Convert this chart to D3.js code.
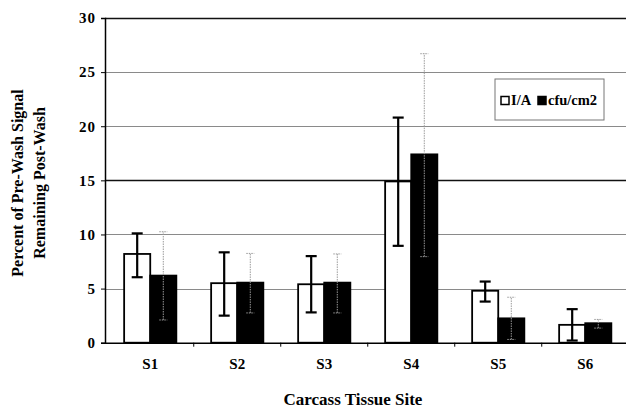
<!DOCTYPE html>
<html>
<head>
<meta charset="utf-8">
<script src="https://cdn.jsdelivr.net/npm/d3@7"></script>
<style>
  body { margin: 0; background: #fff; }
  text { font-family: "Liberation Serif", "Times New Roman", serif; font-weight: bold; }
</style>
</head>
<body>
<div id="chart"></div>
<script>
// data
const sites = ["S1", "S2", "S3", "S4", "S5", "S6"];
const series = ["I/A", "cfu/cm2"];
const iaValues = [8.2, 5.5, 5.4, 14.9, 4.8, 1.65];
const iaErrLow = [6.05, 2.5, 2.8, 8.95, 3.8, 0.2];
const iaErrHigh = [10.1, 8.35, 8.0, 20.8, 5.65, 3.1];
const cfuValues = [6.2, 5.55, 5.55, 17.4, 2.25, 1.8];
const cfuErrLow = [2.1, 2.75, 2.75, 7.95, 0.3, 1.35];
const cfuErrHigh = [10.25, 8.25, 8.2, 26.7, 4.2, 2.15];
const yTicks = [0, 5, 10, 15, 20, 25, 30];

const width = 626, height = 409;
const margin = { top: 18, right: 0, bottom: 66.3, left: 105 };

const svg = d3.select("#chart").append("svg")
  .attr("width", width)
  .attr("height", height);

const x = d3.scaleBand()
  .domain(sites)
  .range([margin.left, 627])
  .paddingInner(0.4)
  .paddingOuter(0.2)
  .align(0.55);

const xInner = d3.scaleBand()
  .domain(series)
  .range([0, x.bandwidth()]);

const y = d3.scaleLinear()
  .domain([0, 30])
  .range([height - margin.bottom, margin.top]);

// gridlines
svg.append("g")
  .selectAll("line")
  .data(yTicks.filter(d => d > 0))
  .join("line")
  .attr("x1", margin.left)
  .attr("x2", width)
  .attr("y1", d => Math.round(y(d)) + 0.5)
  .attr("y2", d => Math.round(y(d)) + 0.5)
  .attr("stroke", d => (d === 15 || d === 30) ? "#111" : "#8a8a8a")
  .attr("stroke-width", d => (d === 15 || d === 30) ? 1.3 : 1.2);

// build table
const rows = sites.map((s, i) => [
  { site: s, key: "I/A", v: iaValues[i], lo: iaErrLow[i], hi: iaErrHigh[i] },
  { site: s, key: "cfu/cm2", v: cfuValues[i], lo: cfuErrLow[i], hi: cfuErrHigh[i] }
]).flat();

// bars
svg.append("g")
  .selectAll("rect")
  .data(rows)
  .join("rect")
  .attr("x", d => x(d.site) + xInner(d.key))
  .attr("y", d => y(d.v))
  .attr("width", xInner.bandwidth())
  .attr("height", d => y(0) - y(d.v))
  .attr("fill", d => d.key === "I/A" ? "#fff" : "#000")
  .attr("stroke", "#000")
  .attr("stroke-width", 1.8);

// error bars
const err = svg.append("g")
  .selectAll("g")
  .data(rows)
  .join("g")
  .attr("stroke", d => d.key === "I/A" ? "#000" : "#999")
  .attr("stroke-width", d => d.key === "I/A" ? 2.2 : 1)
  .attr("stroke-dasharray", d => d.key === "I/A" ? null : "1.5,1");

err.append("line")
  .attr("x1", d => x(d.site) + xInner(d.key) + xInner.bandwidth() / 2)
  .attr("x2", d => x(d.site) + xInner(d.key) + xInner.bandwidth() / 2)
  .attr("y1", d => y(d.lo))
  .attr("y2", d => y(d.hi));

["lo", "hi"].forEach(k => {
  err.append("line")
    .attr("x1", d => x(d.site) + xInner(d.key) + xInner.bandwidth() / 2 - (d.key === "I/A" ? 5.5 : 4))
    .attr("x2", d => x(d.site) + xInner(d.key) + xInner.bandwidth() / 2 + (d.key === "I/A" ? 5.5 : 4))
    .attr("y1", d => y(d[k]))
    .attr("y2", d => y(d[k]));
});

// y axis
const yAxis = svg.append("g")
  .attr("transform", `translate(${margin.left},0)`)
  .call(d3.axisLeft(y).tickValues(yTicks).tickSize(4).tickPadding(5));
yAxis.select(".domain").attr("stroke", "#000").attr("stroke-width", 1.5);
yAxis.selectAll(".tick line").attr("stroke", "#000");
yAxis.selectAll(".tick text")
  .style("font-size", "15px")
  .style("letter-spacing", "1px")
  .attr("fill", "#000");

// x axis
const xAxis = svg.append("g")
  .attr("transform", `translate(0,${y(0)})`)
  .call(d3.axisBottom(x).tickSize(0).tickPadding(16));
xAxis.select(".domain").attr("stroke", "#000").attr("stroke-width", 1.5);
xAxis.selectAll(".tick text")
  .style("font-size", "15px")
  .attr("fill", "#000");

// tick marks between categories
svg.append("g")
  .selectAll("line")
  .data(sites.slice(1))
  .join("line")
  .attr("x1", d => x(d) - x.step() * x.paddingInner() / 2)
  .attr("x2", d => x(d) - x.step() * x.paddingInner() / 2)
  .attr("y1", y(0))
  .attr("y2", y(0) + 4)
  .attr("stroke", "#000");

// axis titles
svg.append("text")
  .attr("x", 353)
  .attr("y", 405)
  .attr("text-anchor", "middle")
  .style("font-size", "17px")
  .text("Carcass Tissue Site");

const yTitle = svg.append("text")
  .attr("transform", "translate(29,183) rotate(-90)")
  .attr("text-anchor", "middle")
  .style("font-size", "16px");
yTitle.append("tspan").attr("x", 0).attr("dy", "-0.35em").text("Percent of Pre-Wash Signal");
yTitle.append("tspan").attr("x", 0).attr("dy", "1.35em").text("Remaining Post-Wash");

// legend
const legend = svg.append("g").attr("transform", "translate(495,79)");
legend.append("rect")
  .attr("width", 109)
  .attr("height", 41)
  .attr("fill", "#fff")
  .attr("stroke", "#777")
  .attr("stroke-width", 1);
const legendItems = [
  { key: "I/A", x: 6, fill: "#fff" },
  { key: "cfu/cm2", x: 43, fill: "#000" }
];
legendItems.forEach(d => {
  legend.append("rect")
    .attr("x", d.x)
    .attr("y", 17.5)
    .attr("width", 8)
    .attr("height", 8)
    .attr("fill", d.fill)
    .attr("stroke", "#000")
    .attr("stroke-width", 1.5);
  legend.append("text")
    .attr("x", d.x + 10)
    .attr("y", 26)
    .style("font-size", "14.5px")
    .text(d.key);
});
</script>
</body>
</html>
